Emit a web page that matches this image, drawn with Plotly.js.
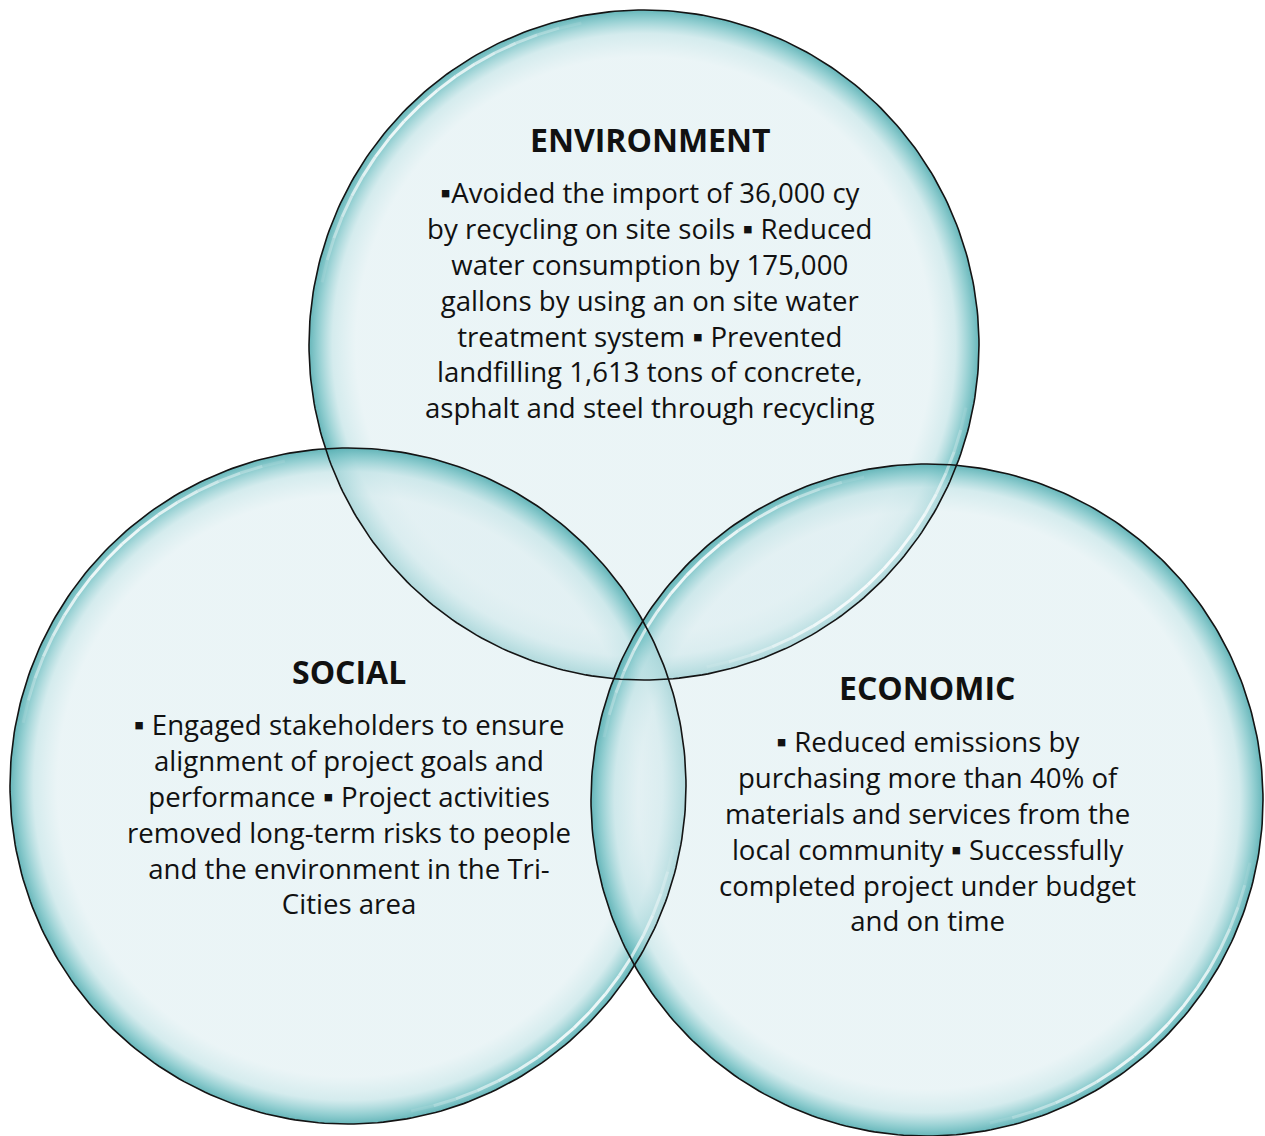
<!DOCTYPE html>
<html><head><meta charset="utf-8">
<script src="https://cdn.plot.ly/plotly-3.0.1.min.js"></script>
<style>html,body{margin:0;padding:0;background:#fff;overflow:hidden}</style>
</head><body><div id="chart" style="width:1265px;height:1136px"></div>
<script>
// ---- data ----
const categories = ['ENVIRONMENT', 'SOCIAL', 'ECONOMIC'];
const environmentLines = [
  '\u25AAAvoided the import of 36,000 cy',
  'by recycling on site soils \u25AA Reduced',
  'water consumption by 175,000',
  'gallons by using an on site water',
  'treatment system \u25AA Prevented',
  'landfilling 1,613 tons of concrete,',
  'asphalt and steel through recycling'
];
const socialLines = [
  '\u25AA Engaged stakeholders to ensure',
  'alignment of project goals and',
  'performance \u25AA Project activities',
  'removed long-term risks to people',
  'and the environment in the Tri-',
  'Cities area'
];
const economicLines = [
  '\u25AA Reduced emissions by',
  'purchasing more than 40% of',
  'materials and services from the',
  'local community \u25AA Successfully',
  'completed project under budget',
  'and on time'
];
const descriptions = [environmentLines, socialLines, economicLines];

// ---- layout geometry (pixel space) ----
const W = 1265, H = 1136;
const circleCX = [644, 348, 927];
const circleCY = [345, 786, 800];
const circleR = [335, 338, 336];
const textCX = [650, 349, 927];
const titleCY = [139, 671, 687];
const bodyCY = [299, 813, 830];

const FONT = '"Open Sans", Lato, sans-serif';
const fillScale = [
  [0, 'rgba(222,238,241,0.62)'],
  [0.86, 'rgba(222,238,241,0.62)'],
  [0.93, 'rgba(194,227,230,0.70)'],
  [0.972, 'rgba(125,197,200,0.82)'],
  [1, 'rgba(85,174,178,0.9)']
];

function arc(cx, cy, r, a0, a1, step) {
  const xs = [], ys = [];
  for (let a = a0; a <= a1 + 1e-9; a += step) {
    const t = a * Math.PI / 180;
    xs.push(cx + r * Math.cos(t));
    ys.push(cy + r * Math.sin(t));
  }
  return { xs, ys };
}

const fills = [], glints = [], outlines = [];
categories.forEach((name, i) => {
  const c = arc(circleCX[i], circleCY[i], circleR[i], 0, 360, 1);
  fills.push({
    type: 'scatter', mode: 'lines', x: c.xs, y: c.ys, name: name,
    fill: 'toself',
    fillgradient: { type: 'radial', colorscale: fillScale },
    line: { color: 'rgba(0,0,0,0)', width: 0 },
    hoverinfo: 'skip', showlegend: false
  });
  // glassy highlight arcs (upper-left and lower-right)
  [45, 225].forEach(mid => {
    for (let off = -34; off < 34; off += 4) {
      const centre = off + 2;
      const op = 0.85 * Math.max(0, 1 - Math.pow(Math.abs(centre) / 34, 2));
      const g = arc(circleCX[i], circleCY[i], circleR[i] - 7, mid + off, mid + off + 4, 1);
      glints.push({
        type: 'scatter', mode: 'lines', x: g.xs, y: g.ys,
        line: { color: 'rgba(255,255,255,' + op.toFixed(3) + ')', width: 3 },
        hoverinfo: 'skip', showlegend: false
      });
    }
  });
  outlines.push({
    type: 'scatter', mode: 'lines', x: c.xs, y: c.ys,
    line: { color: '#141414', width: 1.6 },
    hoverinfo: 'skip', showlegend: false
  });
});

const annotations = [];
categories.forEach((name, i) => {
  annotations.push({
    x: textCX[i], y: titleCY[i], xref: 'x', yref: 'y',
    text: '<b>' + name + '</b>', showarrow: false,
    xanchor: 'center', yanchor: 'middle',
    font: { family: FONT, size: 32, color: '#111' }
  });
  annotations.push({
    x: textCX[i], y: bodyCY[i], xref: 'x', yref: 'y',
    text: descriptions[i].join('<br>'), showarrow: false, align: 'center',
    xanchor: 'center', yanchor: 'middle',
    font: { family: FONT, size: 27.6, color: '#111' }
  });
});

const layout = {
  width: W, height: H,
  margin: { l: 0, r: 0, t: 0, b: 0 },
  paper_bgcolor: '#ffffff', plot_bgcolor: '#ffffff',
  xaxis: { range: [0, W], visible: false, fixedrange: true },
  yaxis: { range: [H, 0], visible: false, fixedrange: true },
  annotations: annotations,
  showlegend: false
};

Plotly.newPlot('chart', fills.concat(glints, outlines), layout, { staticPlot: true, displayModeBar: false });
</script>
</body></html>
